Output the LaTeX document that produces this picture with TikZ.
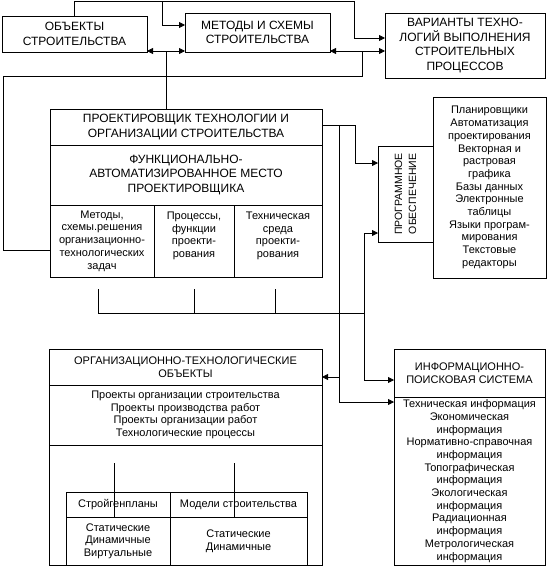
\documentclass[tikz,border=0pt]{standalone}
\usepackage{fontspec}
\setmainfont{Liberation Sans}
\usetikzlibrary{arrows.meta,positioning}
\tikzset{
  capbox/.style={draw,line width=0.8pt,outer sep=0pt,inner sep=1pt,align=center,font=\fontsize{12}{14.5}\selectfont},
  subcap/.style={capbox,font=\fontsize{11}{13}\selectfont},
  listbox/.style={capbox,font=\fontsize{11}{12.7}\selectfont},
  progbox/.style={capbox,font=\fontsize{10.5}{14}\selectfont,rotate=90},
  line/.style={line width=0.8pt},
  arr/.style={line,-{Triangle[length=6pt,width=6pt]}},
  dblarr/.style={line,{Triangle[length=6pt,width=6pt]}-{Triangle[length=6pt,width=6pt]}}
}

\begin{document}
\begin{tikzpicture}[x=1pt,y=-1pt]
  \useasboundingbox (0,0) rectangle (550,570);
  \fill[white] (0,0) rectangle (550,570);
  % top row
  \node[capbox,minimum width=145pt,minimum height=36pt] (obj) at (74.5,34) {ОБЪЕКТЫ\\СТРОИТЕЛЬСТВА};
  \node[capbox,minimum width=145pt,minimum height=39pt] (met) at (257.5,32.5) {МЕТОДЫ И СХЕМЫ\\СТРОИТЕЛЬСТВА};
  \node[capbox,minimum width=160pt,minimum height=65pt] (var) at (465,45.5) {ВАРИАНТЫ ТЕХНО-\\ЛОГИЙ ВЫПОЛНЕНИЯ\\СТРОИТЕЛЬНЫХ\\ПРОЦЕССОВ};
  % designer
  \node[capbox,minimum width=272pt,minimum height=36pt] (pt) at (186,127) {ПРОЕКТИРОВЩИК ТЕХНОЛОГИИ И\\ОРГАНИЗАЦИИ СТРОИТЕЛЬСТВА};
  \node[capbox,minimum width=272pt,minimum height=60pt,below=0pt of pt] (pf) {ФУНКЦИОНАЛЬНО-\\АВТОМАТИЗИРОВАННОЕ МЕСТО\\ПРОЕКТИРОВЩИКА};
  \node[listbox,minimum width=104pt,minimum height=72pt,anchor=north west] (c1) at (pf.south west) {Методы,\\схемы.решения\\организационно-\\технологических\\задач};
  \node[listbox,minimum width=80pt,minimum height=72pt,right=0pt of c1] (c2) {Процессы,\\функции\\проекти-\\рования\\\mbox{}};
  \node[listbox,minimum width=88pt,minimum height=72pt,right=0pt of c2] (c3) {Техническая\\среда\\проекти-\\рования\\\mbox{}};
  % software
  \node[listbox,minimum width=113pt,minimum height=181pt] (sw) at (489.5,187.5) {Планировщики\\Автоматизация\\проектирования\\Векторная и\\растровая\\графика\\Базы данных\\Электронные\\таблицы\\Языки програм-\\мирования\\Текстовые\\редакторы};
  \node[progbox,minimum width=96pt,minimum height=55pt] (prog) at (405.5,194) {ПРОГРАММНОЕ\\ОБЕСПЕЧЕНИЕ};
  % objects
  \node[subcap,minimum width=273pt,minimum height=36pt] (ot) at (185.5,367) {ОРГАНИЗАЦИОННО-ТЕХНОЛОГИЧЕСКИЕ\\ОБЪЕКТЫ};
  \node[listbox,minimum width=273pt,minimum height=60pt,below=0pt of ot] (ol) {Проекты организации строительства\\Проекты производства работ\\Проекты организации работ\\Технологические процессы};
  \node[capbox,minimum width=273pt,minimum height=120pt,below=0pt of ol] (oa) {};
  \node[listbox,minimum width=104pt,minimum height=48pt,anchor=south west] (g1b) at ([xshift=17pt]oa.south west) {Статические\\Динамичные\\Виртуальные};
  \node[listbox,minimum width=104pt,minimum height=25pt,above=0pt of g1b] (g1) {Стройгенпланы};
  \node[listbox,minimum width=137pt,minimum height=48pt,right=0pt of g1b] (g2b) {Статические\\Динамичные};
  \node[listbox,minimum width=137pt,minimum height=25pt,right=0pt of g1] (g2) {Модели строительства};
  % information
  \node[subcap,minimum width=151pt,minimum height=48pt] (it) at (469.5,373) {ИНФОРМАЦИОННО-\\ПОИСКОВАЯ СИСТЕМА};
  \node[listbox,minimum width=151pt,minimum height=168pt,below=0pt of it] (il) {Техническая информация\\Экономическая\\информация\\Нормативно-справочная\\информация\\Топографическая\\информация\\Экологическая\\информация\\Радиационная\\информация\\Метрологическая\\информация};

  % junctions
  \coordinate (jtop) at (162,1);
  \coordinate (jobj) at (166,51);
  \coordinate (jvar) at (362,51);
  \coordinate (jpt) at (339,125);
  \coordinate (jorg) at (339,377);
  \coordinate (jbus) at (364,313);
  \coordinate (t1) at (98,289);
  \coordinate (t2) at (194,289);
  \coordinate (t3) at (275,289);
  \coordinate (s1) at (114,463);
  \coordinate (s2) at (234,463);

  \draw[arr] (obj.north) |- (354,1) |- ([yshift=7.5pt]var.west);
  \draw[arr] (jtop) |- ([yshift=7.5pt]met.west);
  \draw[dblarr] ([yshift=-17pt]obj.east) -- ([yshift=-18.5pt]met.west);
  \draw[line] (jobj) -- (jobj |- pt.north);
  \draw[dblarr] ([yshift=-18.5pt]met.east) -- ([yshift=-5.5pt]var.west);
  \draw[line] (jvar) |- (3,76) |- ([yshift=-9pt]c1.west);
  \draw[arr] ([yshift=2pt]pt.east) -- (355,125) |- ([yshift=31pt]prog.north);
  \draw[arr] (jpt) |- ([yshift=79pt]il.west);
  \draw[arr] (jorg) -- ([yshift=-10pt]ot.east);
  \draw[arr] (jbus) |- ([yshift=-39pt]prog.north);
  \draw[arr] (jbus) |- ([yshift=-7pt]it.west);
  \draw[line] (t1) |- (jbus);
  \draw[line] (t2) -- (t2 |- jbus);
  \draw[line] (t3) -- (t3 |- jbus);
  \draw[line] (s1) -- (s1 |- g1.south);
  \draw[line] (s2) -- (s2 |- g1.south);
\end{tikzpicture}
\end{document}
